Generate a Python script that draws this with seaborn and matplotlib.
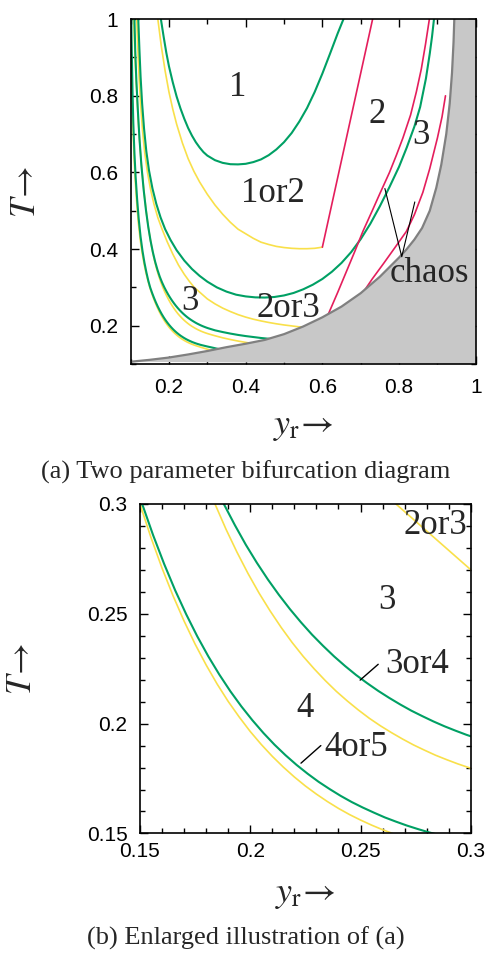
import seaborn as sns
import matplotlib.pyplot as plt
from matplotlib.ticker import MultipleLocator, FuncFormatter

# bifurcation boundaries, (y_r, T) pairs
y4_yr = [0.101, 0.1015, 0.1025, 0.104, 0.106, 0.109, 0.112, 0.116, 0.120, 0.125, 0.130, 0.135, 0.140, 0.145,
         0.150, 0.155, 0.160, 0.165, 0.170, 0.175, 0.180, 0.185, 0.190, 0.195, 0.200, 0.205, 0.210, 0.215,
         0.220, 0.225, 0.230, 0.235, 0.240, 0.245, 0.250, 0.255, 0.260, 0.265, 0.270, 0.285, 0.300, 0.315]
y4_t = [1.0, 0.95, 0.88, 0.80, 0.72, 0.64, 0.58, 0.52, 0.47, 0.425, 0.39, 0.362, 0.338, 0.318,
        0.300, 0.2847, 0.2708, 0.2582, 0.2467, 0.2362, 0.2267, 0.2180, 0.2101, 0.2030, 0.1964, 0.1905, 0.1851, 0.1802,
        0.1757, 0.1716, 0.1679, 0.1645, 0.1614, 0.1586, 0.1561, 0.1538, 0.1517, 0.1498, 0.1480, 0.1432, 0.1387, 0.1345]
g4_yr = [0.102, 0.1025, 0.1035, 0.105, 0.107, 0.110, 0.113, 0.117, 0.121, 0.126, 0.131, 0.136, 0.141, 0.146,
         0.151, 0.156, 0.161, 0.166, 0.171, 0.176, 0.181, 0.186, 0.191, 0.196, 0.201, 0.206, 0.211, 0.216,
         0.221, 0.226, 0.231, 0.236, 0.241, 0.246, 0.251, 0.256, 0.261, 0.266, 0.271, 0.276, 0.281, 0.286,
         0.300, 0.315, 0.330, 0.345]
g4_t = [1.0, 0.95, 0.89, 0.81, 0.73, 0.65, 0.59, 0.53, 0.48, 0.432, 0.395, 0.365, 0.340, 0.318,
        0.300, 0.2857, 0.2726, 0.2606, 0.2497, 0.2397, 0.2306, 0.2223, 0.2147, 0.2078, 0.2015, 0.1957, 0.1904, 0.1856,
        0.1812, 0.1772, 0.1735, 0.1702, 0.1671, 0.1643, 0.1618, 0.1595, 0.1573, 0.1554, 0.1536, 0.1520, 0.1505, 0.1492,
        0.1458, 0.1425, 0.1390, 0.1355]
y3_yr = [0.108, 0.112, 0.116, 0.120, 0.125, 0.130, 0.136, 0.142, 0.148, 0.154, 0.160, 0.166, 0.172, 0.178,
         0.184, 0.189, 0.194, 0.199, 0.204, 0.209, 0.214, 0.219, 0.224, 0.229, 0.234, 0.239, 0.244, 0.249,
         0.254, 0.259, 0.264, 0.269, 0.274, 0.279, 0.284, 0.289, 0.294, 0.299, 0.304, 0.320, 0.340, 0.360,
         0.380, 0.400, 0.420]
y3_t = [1.0, 0.89, 0.81, 0.735, 0.66, 0.60, 0.54, 0.488, 0.445, 0.41, 0.38, 0.355, 0.334, 0.316,
        0.300, 0.2885, 0.2780, 0.2683, 0.2594, 0.2513, 0.2438, 0.2369, 0.2306, 0.2249, 0.2196, 0.2147, 0.2103, 0.2062,
        0.2024, 0.1990, 0.1959, 0.1930, 0.1903, 0.1879, 0.1856, 0.1836, 0.1817, 0.1800, 0.1784, 0.1738, 0.1685, 0.1640,
        0.1600, 0.1565, 0.1530]
g3_yr = [0.110, 0.112, 0.115, 0.119, 0.123, 0.128, 0.134, 0.140, 0.146, 0.152, 0.158, 0.164, 0.170, 0.176,
         0.182, 0.188, 0.193, 0.198, 0.203, 0.208, 0.213, 0.218, 0.223, 0.228, 0.233, 0.238, 0.243, 0.248,
         0.253, 0.258, 0.263, 0.268, 0.273, 0.278, 0.283, 0.288, 0.293, 0.298, 0.303, 0.320, 0.340, 0.360,
         0.380, 0.400, 0.420, 0.440, 0.460, 0.480]
g3_t = [1.0, 0.92, 0.84, 0.76, 0.69, 0.62, 0.555, 0.502, 0.458, 0.422, 0.392, 0.367, 0.346, 0.328,
        0.313, 0.300, 0.2904, 0.2814, 0.2732, 0.2656, 0.2586, 0.2521, 0.2461, 0.2405, 0.2354, 0.2306, 0.2262, 0.2221,
        0.2184, 0.2149, 0.2117, 0.2087, 0.2059, 0.2034, 0.2010, 0.1988, 0.1968, 0.1949, 0.1932, 0.1880, 0.1835, 0.1795,
        0.1760, 0.1730, 0.1705, 0.1680, 0.1660, 0.1640]
y2_yr = [0.116, 0.119, 0.122, 0.126, 0.131, 0.137, 0.144, 0.152, 0.161, 0.171, 0.182, 0.195, 0.210, 0.225,
         0.240, 0.253, 0.266, 0.283, 0.300, 0.320, 0.340, 0.360, 0.380, 0.400, 0.420, 0.440, 0.460, 0.480,
         0.500, 0.520, 0.540, 0.560]
y2_t = [1.0, 0.92, 0.85, 0.78, 0.71, 0.65, 0.60, 0.556, 0.517, 0.482, 0.452, 0.420, 0.387, 0.358,
        0.334, 0.316, 0.300, 0.285, 0.270, 0.257, 0.246, 0.237, 0.229, 0.2225, 0.217, 0.2125, 0.2085, 0.205,
        0.202, 0.1995, 0.197, 0.195]
g2_yr = [0.120, 0.123, 0.126, 0.130, 0.135, 0.141, 0.148, 0.157, 0.167, 0.178, 0.190, 0.204, 0.220, 0.240,
         0.260, 0.280, 0.300, 0.325, 0.350, 0.375, 0.400, 0.425, 0.450, 0.475, 0.500, 0.525, 0.550, 0.575,
         0.600, 0.625, 0.650, 0.675, 0.700, 0.725, 0.750, 0.775, 0.800, 0.820, 0.840, 0.855, 0.870, 0.880,
         0.886, 0.891]
g2_t = [1.0, 0.92, 0.85, 0.78, 0.715, 0.655, 0.605, 0.558, 0.518, 0.483, 0.452, 0.424, 0.397, 0.370,
        0.348, 0.330, 0.315, 0.300, 0.289, 0.281, 0.2765, 0.274, 0.2735, 0.275, 0.279, 0.2855, 0.295, 0.307,
        0.322, 0.341, 0.364, 0.392, 0.426, 0.466, 0.512, 0.562, 0.615, 0.665, 0.720, 0.771, 0.845, 0.910,
        0.955, 1.0]
y1_yr = [0.171, 0.180, 0.190, 0.200, 0.210, 0.220, 0.235, 0.250, 0.265, 0.280, 0.300, 0.320, 0.340, 0.360,
         0.380, 0.400, 0.420, 0.440, 0.460, 0.480, 0.500, 0.520, 0.540, 0.560, 0.580, 0.600]
y1_t = [1.0, 0.93, 0.865, 0.81, 0.765, 0.726, 0.677, 0.636, 0.603, 0.575, 0.543, 0.515, 0.491, 0.470,
        0.452, 0.440, 0.428, 0.418, 0.412, 0.407, 0.404, 0.402, 0.401, 0.401, 0.402, 0.405]
g1_yr = [0.179, 0.186, 0.193, 0.200, 0.210, 0.220, 0.230, 0.240, 0.250, 0.260, 0.270, 0.280, 0.290, 0.300,
         0.320, 0.340, 0.360, 0.380, 0.400, 0.420, 0.440, 0.460, 0.480, 0.500, 0.520, 0.540, 0.560, 0.580,
         0.600, 0.620, 0.640, 0.655]
g1_t = [1.0, 0.955, 0.913, 0.877, 0.835, 0.798, 0.767, 0.740, 0.716, 0.696, 0.679, 0.665, 0.653, 0.644,
        0.632, 0.625, 0.6215, 0.621, 0.6225, 0.627, 0.634, 0.645, 0.660, 0.679, 0.703, 0.733, 0.768, 0.810,
        0.858, 0.910, 0.963, 1.0]
m1_yr = [0.600, 0.731]
m1_t = [0.405, 1.0]
m2_yr = [0.612, 0.640, 0.660, 0.685, 0.706, 0.730, 0.750, 0.775, 0.793, 0.810, 0.830, 0.845, 0.858, 0.869, 0.879]
m2_t = [0.222, 0.287, 0.335, 0.395, 0.447, 0.500, 0.545, 0.600, 0.645, 0.690, 0.750, 0.810, 0.870, 0.935, 1.0]
m3_yr = [0.705, 0.730, 0.760, 0.790, 0.819, 0.840, 0.862, 0.880, 0.900, 0.912, 0.921]
m3_t = [0.285, 0.322, 0.363, 0.405, 0.446, 0.490, 0.548, 0.610, 0.690, 0.745, 0.800]
chaos_yr = [0.100, 0.150, 0.200, 0.250, 0.300, 0.350, 0.400, 0.450, 0.500, 0.550, 0.600, 0.650, 0.700,
            0.750, 0.800, 0.820, 0.840, 0.860, 0.880, 0.897, 0.910, 0.923, 0.932, 0.938, 0.942, 0.944]
chaos_t = [0.106, 0.111, 0.117, 0.125, 0.134, 0.144, 0.153, 0.163, 0.178, 0.198, 0.222, 0.250, 0.285,
           0.328, 0.378, 0.400, 0.425, 0.455, 0.500, 0.560, 0.620, 0.700, 0.780, 0.860, 0.940, 1.0]

labels_a = ['1', '1or2', '2', '3', '3', '2or3', 'chaos']
labels_a_pos = [(0.378, 0.822), (0.472, 0.545), (0.744, 0.75), (0.856, 0.697), (0.256, 0.263), (0.511, 0.245), (0.88, 0.336)]
labels_b = ['2or3', '3', '3or4', '4', '4or5']
labels_b_pos = [(0.284, 0.290), (0.262, 0.256), (0.2755, 0.227), (0.225, 0.207), (0.248, 0.189)]

GREEN = '#00a064'
YELLOW = '#f9e04a'
MAGENTA = '#e41e5c'

sns.set_theme(style='ticks')
plt.rcParams['font.family'] = ['Liberation Sans', 'DejaVu Sans']
plt.rcParams['mathtext.fontset'] = 'stix'

curves = [
    (y4_yr, y4_t, YELLOW, 1.2), (y3_yr, y3_t, YELLOW, 1.2), (y2_yr, y2_t, YELLOW, 1.2), (y1_yr, y1_t, YELLOW, 1.2),
    (g4_yr, g4_t, GREEN, 1.5), (g3_yr, g3_t, GREEN, 1.5), (g2_yr, g2_t, GREEN, 1.5), (g1_yr, g1_t, GREEN, 1.5),
    (m1_yr, m1_t, MAGENTA, 1.2), (m2_yr, m2_t, MAGENTA, 1.2), (m3_yr, m3_t, MAGENTA, 1.2),
]


def draw(ax, lo, hi):
    for xs, ts, col, lw in curves:
        sns.lineplot(x=xs, y=ts, ax=ax, color=col, lw=lw, sort=False, estimator=None, legend=False)
    # chaotic region
    ax.fill(chaos_yr + [hi, hi], chaos_t + [hi, lo], color='#c8c8c8', lw=0, zorder=3)
    sns.lineplot(x=chaos_yr, y=chaos_t, ax=ax, color='#808080', lw=1.6, sort=False, estimator=None,
                 legend=False, zorder=4)
    ax.set_xlim(lo, hi)
    ax.set_ylim(lo, hi)
    ax.tick_params(which='both', direction='in', top=True, right=True, colors='black', labelsize=15)
    ax.tick_params(which='major', length=6, width=1)
    ax.tick_params(which='minor', length=3.5, width=1)
    fmt = FuncFormatter(lambda v, p: f'{v:g}')
    ax.xaxis.set_major_formatter(fmt)
    ax.yaxis.set_major_formatter(fmt)
    for sp in ax.spines.values():
        sp.set_linewidth(1.2)
        sp.set_color('black')
        sp.set_zorder(6)


fig = plt.figure(figsize=(4.91, 9.58), dpi=100)
ax1 = fig.add_axes([0.266, 0.620, 0.703, 0.360])
ax2 = fig.add_axes([0.285, 0.130, 0.674, 0.344])

draw(ax1, 0.1, 1.0)
ax1.xaxis.set_major_locator(MultipleLocator(0.2))
ax1.yaxis.set_major_locator(MultipleLocator(0.2))
ax1.xaxis.set_minor_locator(MultipleLocator(0.1))
ax1.yaxis.set_minor_locator(MultipleLocator(0.1))
ax1.tick_params(axis='x', pad=10)
ax1.tick_params(axis='y', pad=9)

draw(ax2, 0.15, 0.3)
ax2.xaxis.set_major_locator(MultipleLocator(0.05))
ax2.yaxis.set_major_locator(MultipleLocator(0.05))
ax2.xaxis.set_minor_locator(MultipleLocator(0.01))
ax2.yaxis.set_minor_locator(MultipleLocator(0.01))
ax2.tick_params(axis='x', pad=6)
ax2.tick_params(axis='y', pad=9)

serif = ['Liberation Serif', 'DejaVu Serif']
for txt, (x, y) in zip(labels_a, labels_a_pos):
    ax1.text(x, y, txt, fontsize=25, family=serif, ha='center', va='center', zorder=5)
for txt, (x, y) in zip(labels_b, labels_b_pos):
    ax2.text(x, y, txt, fontsize=25, family=serif, ha='center', va='center', zorder=5)

# pointer lines
ax1.plot([0.763, 0.807, 0.841], [0.558, 0.38, 0.523], color='black', lw=0.8, zorder=5)
ax2.plot([0.2498, 0.258], [0.2198, 0.227], color='black', lw=1.0, zorder=5)
ax2.plot([0.223, 0.232], [0.182, 0.19], color='black', lw=1.0, zorder=5)

for ax, yx, xy in [(ax1, -0.304, -0.177), (ax2, -0.357, -0.182)]:
    ax.set_ylabel(r'$T\!\rightarrow$', fontsize=25, va='center')
    ax.set_xlabel(r'$y_{\mathrm{r}}\!\rightarrow$', fontsize=26, va='center')
    ax.yaxis.set_label_coords(yx, 0.5)
    ax.xaxis.set_label_coords(0.5, xy)

fig.text(0.5, 1 - 472 / 958, '(a) Two parameter bifurcation diagram', fontsize=19, family=serif,
         ha='center', va='center')
fig.text(0.5, 1 - 938 / 958, '(b) Enlarged illustration of (a)', fontsize=19, family=serif,
         ha='center', va='center')

fig.savefig('out.png', dpi=100)
